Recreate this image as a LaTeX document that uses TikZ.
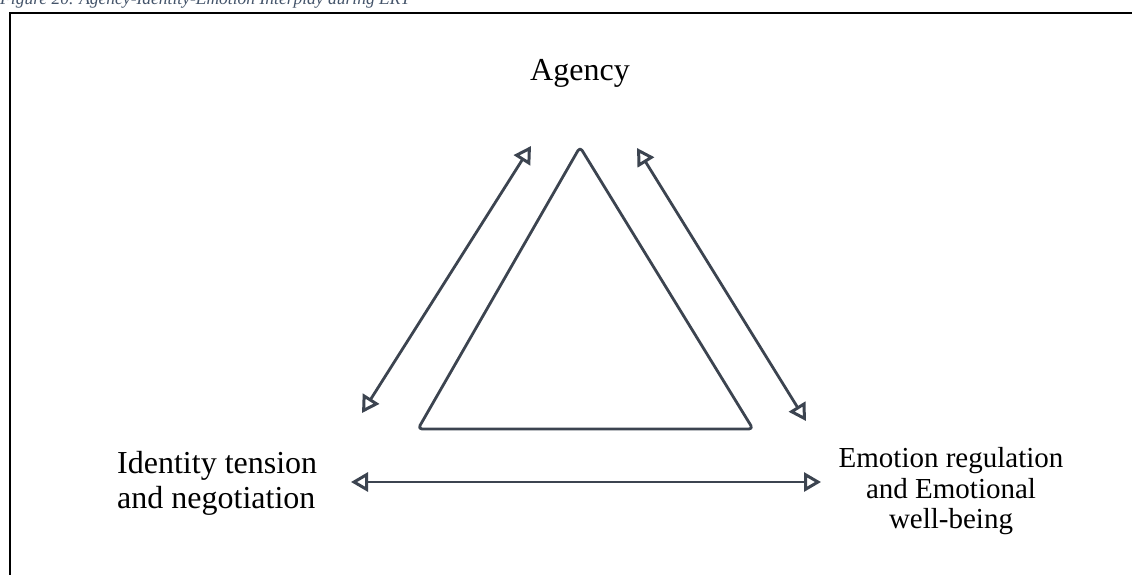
\documentclass[tikz,border=0pt]{standalone}
\usepackage{fontspec}
\setmainfont{Liberation Serif}
\usetikzlibrary{arrows.meta}
\definecolor{ink}{HTML}{3C4450}
\definecolor{capcol}{HTML}{44546A}
\tikzset{
  tri/.style={draw=ink, line width=2.8pt, rounded corners=4pt, line join=round},
  link/.style={draw=ink, line width=2.8pt, {Triangle[open, length=17pt, width=19pt, line width=3pt]}-{Triangle[open, length=17pt, width=19pt, line width=3pt]}},
  lab/.style={inner sep=0pt, font=\fontsize{32}{36}\selectfont},
  labr/.style={inner sep=0pt, font=\fontsize{29}{31}\selectfont, align=center},
}
\begin{document}
\begin{tikzpicture}[x=1pt, y=-1pt]
\clip (0,0) rectangle (1132,574);
\fill[white] (0,0) rectangle (1132,574);
% caption (cut off at the top)
\node[anchor=base west, inner sep=0pt, text=capcol, font=\fontsize{17.5}{19}\selectfont\itshape] (cap) at (0,4) {Figure 20. Agency-Identity-Emotion Interplay during ERT};
% frame
\draw[black, line width=1.8pt] (10,1000) -- (10,13) -- (1200,13);
% labels
\node[lab, anchor=base] (agency) at (580,80) {Agency};
\node[lab, anchor=base west] (id1) at (117,473) {Identity tension};
\node[lab, anchor=base west] (id2) at (117,508) {and negotiation};
\node[labr, anchor=base] (em1) at (951,467) {Emotion regulation};
\node[labr, anchor=base] (em2) at (951,498) {and Emotional};
\node[labr, anchor=base] (em3) at (951,528) {well-being};
% triangle
\coordinate (apex) at (580,147);
\coordinate (bl) at (418,429);
\coordinate (br) at (753,429);
\draw[tri] (apex) -- (br) -- (bl) -- cycle;
% arrows
\coordinate (a1) at (362,413);
\coordinate (a2) at (531,146);
\coordinate (b1) at (637,148);
\coordinate (b2) at (806,421);
\coordinate (c1) at (351,482);
\coordinate (c2) at (821,482);
\draw[link] (a1) -- (a2);
\draw[link] (b1) -- (b2);
\draw[link] (c1) -- (c2);
\end{tikzpicture}
\end{document}
